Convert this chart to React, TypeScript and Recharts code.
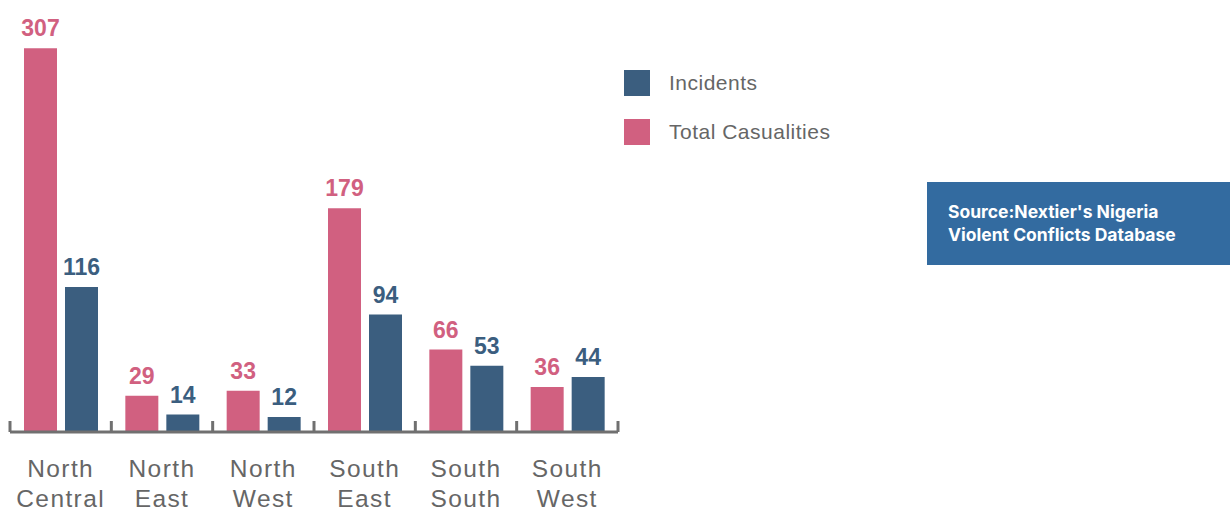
import React from 'react';
import { BarChart, Bar, XAxis, YAxis, LabelList } from 'recharts';

const regions = ['North Central', 'North East', 'North West', 'South East', 'South South', 'South West'];
const casualties = [307, 29, 33, 179, 66, 36];
const incidents = [116, 14, 12, 94, 53, 44];

const PINK = '#D16080';
const BLUE = '#3B5E7F';
const GREY = '#666666';
const AXIS = '#707070';

const data = regions.map((r, i) => ({ region: r, casualties: casualties[i], incidents: incidents[i] }));

const RegionTick = (props: any) => {
  const { x, y, payload, index } = props;
  const half = payload?.offset ?? 50.67;
  const words = String(payload.value).split(' ');
  return (
    <g>
      <line x1={x - half} x2={x - half} y1={y - 11} y2={y} stroke={AXIS} strokeWidth={3} />
      {index === regions.length - 1 && (
        <line x1={x + half} x2={x + half} y1={y - 11} y2={y} stroke={AXIS} strokeWidth={3} />
      )}
      <text
        x={x}
        y={y}
        textAnchor="middle"
        fill={GREY}
        fontSize={24.5}
        letterSpacing={1.4}
        fontFamily="'Liberation Sans', Arial, sans-serif"
      >
        <tspan x={x} dy={45}>{words[0]}</tspan>
        <tspan x={x} dy={29.5}>{words[1]}</tspan>
      </text>
    </g>
  );
};

const legendItems = [
  { label: 'Incidents', color: BLUE },
  { label: 'Total Casualities', color: PINK },
];

export default function App() {
  return (
    <div style={{ position: 'absolute', left: 0, top: 0, width: 1230, height: 512, background: '#fff' }}>
      <BarChart
        width={1230}
        height={512}
        data={data}
        margin={{ top: 32, right: 612, left: 10, bottom: 0 }}
        barSize={33}
        barGap={8}
      >
        <YAxis hide domain={[0, 320]} />
        <XAxis
          dataKey="region"
          height={80}
          tickSize={0}
          tickMargin={0}
          tickLine={false}
          axisLine={{ stroke: AXIS, strokeWidth: 3 }}
          tick={<RegionTick />}
          interval={0}
        />
        <Bar dataKey="casualties" fill={PINK} isAnimationActive={false}>
          <LabelList
            dataKey="casualties"
            position="top"
            offset={12}
            fill={PINK}
            fontSize={23}
            fontWeight="bold"
            fontFamily="'Liberation Sans', Arial, sans-serif"
          />
        </Bar>
        <Bar dataKey="incidents" fill={BLUE} isAnimationActive={false}>
          <LabelList
            dataKey="incidents"
            position="top"
            offset={12}
            fill={BLUE}
            fontSize={23}
            fontWeight="bold"
            fontFamily="'Liberation Sans', Arial, sans-serif"
          />
        </Bar>
      </BarChart>

      <div style={{ position: 'absolute', left: 624, top: 70, fontFamily: "'Liberation Sans', Arial, sans-serif" }}>
        {legendItems.map((item) => (
          <div key={item.label} style={{ display: 'flex', alignItems: 'center', height: 26, marginBottom: 23 }}>
            <div style={{ width: 26, height: 26, background: item.color }} />
            <span style={{ marginLeft: 19, fontSize: 21, letterSpacing: 0.5, color: GREY }}>{item.label}</span>
          </div>
        ))}
      </div>

      <div
        style={{
          position: 'absolute',
          left: 927,
          top: 182,
          width: 303,
          height: 83,
          background: '#336BA0',
          color: '#fff',
          fontFamily: 'Inter, sans-serif',
          fontWeight: 700,
          fontSize: 17.5,
          lineHeight: '23px',
          boxSizing: 'border-box',
          padding: '18px 0 0 21px',
        }}
      >
        Source:Nextier's Nigeria
        <br />
        Violent Conflicts Database
      </div>
    </div>
  );
}
